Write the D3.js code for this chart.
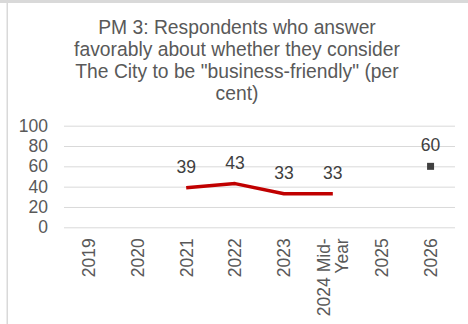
<!DOCTYPE html>
<html>
<head>
<meta charset="utf-8">
<script src="https://cdn.jsdelivr.net/npm/d3@7"></script>
<style>
  html, body { margin: 0; padding: 0; background: #fff; }
  svg { display: block; font-family: "Liberation Sans", Arial, sans-serif; }
</style>
</head>
<body>
<svg id="chart" width="468" height="324"></svg>
<script>
// Survey results by year
const categories = ["2019", "2020", "2021", "2022", "2023", "2024 Mid-Year", "2025", "2026"];
const actualValues = [null, null, 39, 43, 33, 33, null, null];
const targetValues = [null, null, null, null, null, null, null, 60];
const yTicks = [0, 20, 40, 60, 80, 100];
const titleLines = [
  "PM 3: Respondents who answer",
  "favorably about whether they consider",
  "The City to be \"business-friendly\" (per",
  "cent)"
];

const svg = d3.select("#chart");
const W = 468, H = 324;
const plot = { left: 64, right: 455, top: 125.7, bottom: 227.3 };
const textColor = "#595959";
const labelSize = 17.5;

// Frame edges
svg.append("rect").attr("x", 0).attr("y", 0).attr("width", W).attr("height", 3).attr("fill", "#d9d9d9");
svg.append("rect").attr("x", 6.5).attr("y", 2).attr("width", 1.5).attr("height", H - 2).attr("fill", "#d9d9d9");

// Title
svg.append("text")
  .attr("x", 237).attr("y", 34)
  .attr("text-anchor", "middle")
  .attr("fill", textColor)
  .attr("font-size", 19.3)
  .selectAll("tspan").data(titleLines).join("tspan")
  .attr("x", 237)
  .attr("dy", (d, i) => i === 0 ? 0 : 22)
  .text(d => d);

const x = d3.scaleBand().domain(categories).range([plot.left, plot.right]);
const y = d3.scaleLinear().domain([0, 100]).range([plot.bottom, plot.top]);

// Gridlines and y labels
const yAxis = d3.axisLeft(y).tickValues(yTicks).tickSize(-(plot.right - plot.left)).tickPadding(16);
const yg = svg.append("g").attr("transform", `translate(${plot.left},0)`).call(yAxis);
yg.select(".domain").remove();
yg.selectAll(".tick line").attr("stroke", "#d9d9d9").attr("stroke-width", 1);
yg.selectAll(".tick text").attr("fill", textColor).attr("font-size", labelSize)
  .attr("font-family", "Liberation Sans, Arial, sans-serif");

// x labels, rotated
const xg = svg.append("g").attr("transform", `translate(0,${plot.bottom})`);
const xl = xg.selectAll("g").data(categories).join("g")
  .attr("transform", d => `translate(${x(d) + x.bandwidth() / 2},11) rotate(-90)`);
xl.each(function(d) {
  const parts = d === "2024 Mid-Year" ? ["2024 Mid-", "Year"] : [d];
  const t = d3.select(this).append("text")
    .attr("text-anchor", "end")
    .attr("fill", textColor)
    .attr("font-size", labelSize);
  const off = (parts.length - 1) * 18.5 / 2;
  parts.forEach((p, i) => {
    t.append("tspan").attr("x", 0).attr("y", 6.3 - off + i * 18.5).text(p);
  });
});

// Actual series line
const pts = categories.map((c, i) => ({ c, v: actualValues[i] })).filter(d => d.v != null);
svg.append("path")
  .datum(pts)
  .attr("fill", "none")
  .attr("stroke", "#c00000")
  .attr("stroke-width", 3.5)
  .attr("stroke-linejoin", "round")
  .attr("d", d3.line().x(d => x(d.c) + x.bandwidth() / 2).y(d => y(d.v)));

svg.selectAll(".lbl").data(pts).join("text")
  .attr("x", d => x(d.c) + x.bandwidth() / 2)
  .attr("y", d => y(d.v) - 14.4)
  .attr("text-anchor", "middle")
  .attr("fill", "#404040")
  .attr("font-size", labelSize)
  .text(d => d.v);

// Target marker
const tgt = categories.map((c, i) => ({ c, v: targetValues[i] })).filter(d => d.v != null);
svg.selectAll(".tgt").data(tgt).join("rect")
  .attr("x", d => x(d.c) + x.bandwidth() / 2 - 3.5)
  .attr("y", d => y(d.v) - 3.5)
  .attr("width", 7).attr("height", 7)
  .attr("fill", "#404040");
svg.selectAll(".tlbl").data(tgt).join("text")
  .attr("x", d => x(d.c) + x.bandwidth() / 2)
  .attr("y", d => y(d.v) - 15)
  .attr("text-anchor", "middle")
  .attr("fill", "#404040")
  .attr("font-size", labelSize)
  .text(d => d.v);
</script>
</body>
</html>
